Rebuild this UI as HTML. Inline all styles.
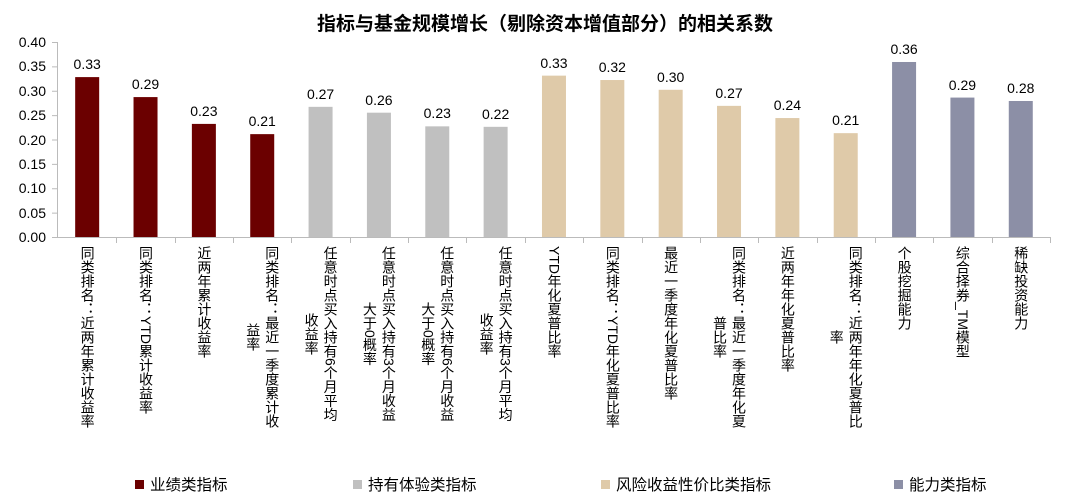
<!DOCTYPE html>
<html><head><meta charset="utf-8"><style>
body{margin:0;width:1080px;height:504px;background:#fff;position:relative;overflow:hidden;font-family:"Liberation Sans","Noto Sans CJK SC",sans-serif;color:#000}
.t{position:absolute;left:0;width:1090px;top:9px;text-align:center;font-size:19px;font-weight:bold}
.yl{position:absolute;left:0;width:46px;text-align:right;font-size:14px;line-height:14px}
.v{position:absolute;width:50px;text-align:center;font-size:14px;line-height:14px}
.lab{position:absolute;top:246px;writing-mode:vertical-rl;white-space:nowrap;font-size:14px;line-height:19px;transform:translateX(-50%);text-align:center}
.lg{position:absolute;top:477px;font-size:15.5px;line-height:17px}
.lg i{display:inline-block;width:9px;height:9px;margin-right:6px;vertical-align:1px}
</style></head><body>
<div class="t">指标与基金规模增长（剔除资本增值部分）的相关系数</div>
<div id="c"></div>
<svg width="1080" height="504" style="position:absolute;left:0;top:0" id="s"></svg>
<script>
var vals=[0.328,0.287,0.232,0.211,0.267,0.255,0.227,0.226,0.331,0.322,0.302,0.269,0.244,0.213,0.359,0.286,0.279];
var lbl=["0.33","0.29","0.23","0.21","0.27","0.26","0.23","0.22","0.33","0.32","0.30","0.27","0.24","0.21","0.36","0.29","0.28"];
var col=["#6b0000","#6b0000","#6b0000","#6b0000","#c0c0c0","#c0c0c0","#c0c0c0","#c0c0c0","#dfcaa9","#dfcaa9","#dfcaa9","#dfcaa9","#dfcaa9","#dfcaa9","#8c8fa6","#8c8fa6","#8c8fa6"];
var names=["同类排名：近两年累计收益率","同类排名：YTD累计收益率","近两年累计收益率","同类排名：最近一季度累计收<br>益率","任意时点买入持有6个月平均<br>收益率","任意时点买入持有3个月收益<br>大于0概率","任意时点买入持有6个月收益<br>大于0概率","任意时点买入持有3个月平均<br>收益率","YTD年化夏普比率","同类排名：YTD年化夏普比率","最近一季度年化夏普比率","同类排名：最近一季度年化夏<br>普比率","近两年年化夏普比率","同类排名：近两年年化夏普比<br>率","个股挖掘能力","综合择券_TM模型","稀缺投资能力"];
var x0=58,cw=58.35,y0=237,sc=487.5,s='',h='';
s+='<line x1="57.5" y1="42" x2="57.5" y2="237" stroke="#bbb"/><line x1="52" y1="237.5" x2="1050" y2="237.5" stroke="#bbb"/>';
for(var k=0;k<=8;k++){var y=y0-k*0.05*sc;s+='<line x1="52" y1="'+(y+.5)+'" x2="58" y2="'+(y+.5)+'" stroke="#bbb"/>';h+='<div class="yl" style="top:'+(y-7)+'px">'+(k*0.05).toFixed(2)+'</div>';}
for(var i=0;i<17;i++){var cx=x0+(i+.5)*cw,t=y0-vals[i]*sc;
s+='<rect x="'+(cx-12)+'" y="'+t+'" width="24" height="'+(y0-t)+'" fill="'+col[i]+'"/>';
var tx=Math.round(x0+(i+1)*cw)+.5;s+='<line x1="'+tx+'" y1="237" x2="'+tx+'" y2="243" stroke="#bbb"/>';
h+='<div class="v" style="left:'+(cx-25)+'px;top:'+(t-20)+'px">'+lbl[i]+'</div>';
h+='<div class="lab" style="left:'+cx+'px">'+names[i]+'</div>';}
document.getElementById('s').innerHTML=s;
h+='<div class="lg" style="left:135px"><i style="background:#6b0000"></i>业绩类指标</div>';
h+='<div class="lg" style="left:353px"><i style="background:#c0c0c0"></i>持有体验类指标</div>';
h+='<div class="lg" style="left:601px"><i style="background:#dfcaa9"></i>风险收益性价比类指标</div>';
h+='<div class="lg" style="left:894px"><i style="background:#8c8fa6"></i>能力类指标</div>';
document.getElementById('c').innerHTML=h;
</script>
</body></html>
